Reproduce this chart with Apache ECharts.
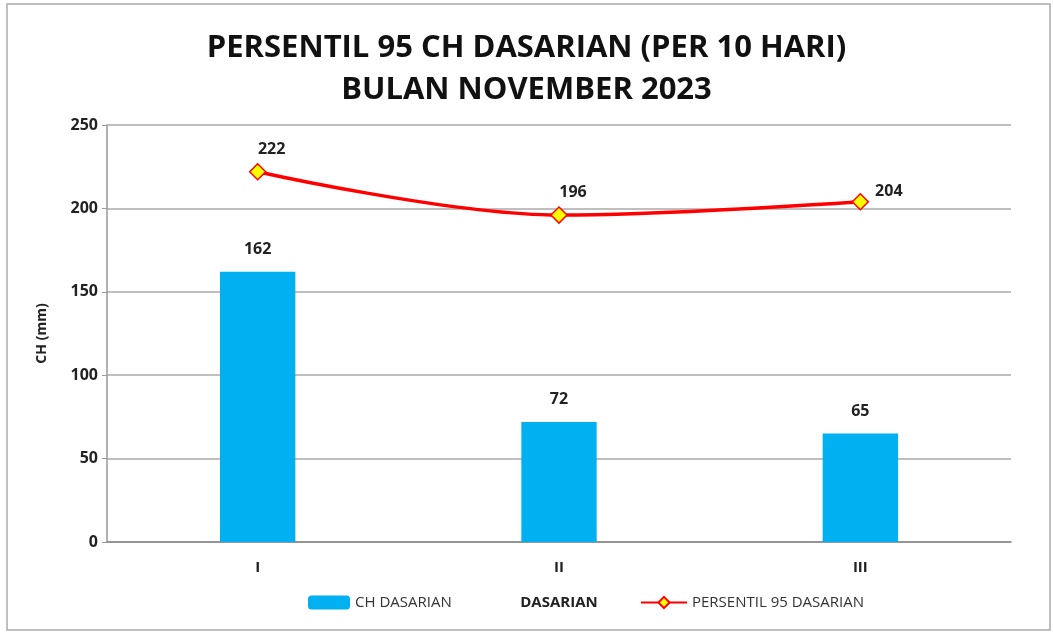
<!DOCTYPE html>
<html>
<head>
<meta charset="utf-8">
<script src="https://cdn.jsdelivr.net/npm/echarts@6/dist/echarts.min.js"></script>
<style>
  html, body { margin: 0; padding: 0; background: #fff; }
  #main { width: 1053px; height: 632px; }
</style>
</head>
<body>
<div id="main"></div>
<script>
// 数据
const categories = ['I', 'II', 'III'];
const chDasarian = [162, 72, 65];
const persentil95 = [222, 196, 204];
const yTicks = [0, 50, 100, 150, 200, 250];

const font = '"Open Sans", "Noto Sans", sans-serif';

let myChart = echarts.init(document.getElementById('main'));

let option = {
    backgroundColor: '#fff',
    textStyle: { fontFamily: font },
    title: {
        text: 'PERSENTIL 95 CH DASARIAN (PER 10 HARI)\nBULAN NOVEMBER 2023',
        left: 'center',
        top: 22,
        textStyle: {
            fontFamily: font,
            fontSize: 31,
            fontWeight: 'bold',
            color: '#111',
            lineHeight: 42
        }
    },
    legend: [{
        data: ['CH DASARIAN'],
        left: 303,
        top: 590,
        itemWidth: 42,
        itemHeight: 14,
        textStyle: { fontSize: 15, color: '#333', fontFamily: font }
    }, {
        data: ['PERSENTIL 95 DASARIAN'],
        left: 635,
        top: 590,
        itemWidth: 46,
        itemHeight: 14,
        textStyle: { fontSize: 15, color: '#333', fontFamily: font }
    }],
    grid: {
        left: 107,
        right: 42,
        top: 125,
        bottom: 90
    },
    xAxis: {
        type: 'category',
        data: categories,
        name: 'DASARIAN',
        nameLocation: 'middle',
        nameGap: 53,
        nameTextStyle: { fontSize: 15, fontWeight: 'bold', color: '#222' },
        axisLine: { lineStyle: { color: '#888', width: 1.5 } },
        axisTick: { show: false },
        axisLabel: { fontSize: 15, fontWeight: 'bold', color: '#222', margin: 18 }
    },
    yAxis: {
        type: 'value',
        min: yTicks[0],
        max: yTicks[yTicks.length - 1],
        interval: 50,
        name: 'CH (mm)',
        nameLocation: 'middle',
        nameGap: 58,
        nameRotate: 90,
        nameTextStyle: { fontSize: 14, fontWeight: 'bold', color: '#222' },
        axisLine: { show: true, lineStyle: { color: '#999', width: 1.5 } },
        axisTick: { show: true, length: 5, lineStyle: { color: '#999' } },
        axisLabel: { fontSize: 16, fontWeight: 'bold', color: '#222', margin: 9 },
        splitLine: { lineStyle: { color: '#aaa', width: 1.5 } }
    },
    series: [{
        name: 'CH DASARIAN',
        type: 'bar',
        data: chDasarian,
        barWidth: '25%',
        itemStyle: { color: '#00B0F0' },
        label: {
            show: true,
            position: 'top',
            distance: 14,
            fontSize: 16,
            fontWeight: 'bold',
            color: '#222'
        }
    }, {
        name: 'PERSENTIL 95 DASARIAN',
        type: 'line',
        data: persentil95.map(function(v, i) {
            let lbl = { offset: [14, 0] };
            if (i === 2) {
                lbl = { position: 'right', offset: [0, -10] };
            }
            return { value: v, label: lbl };
        }),
        smooth: 0.35,
        symbol: 'diamond',
        symbolSize: 16,
        lineStyle: { color: '#FF0000', width: 3.5 },
        itemStyle: { color: '#FFFF00', borderColor: '#FF0000', borderWidth: 1.5 },
        label: {
            show: true,
            position: 'top',
            distance: 6,
            fontSize: 16,
            fontWeight: 'bold',
            color: '#222'
        },
        z: 5
    }],
    graphic: [{
        type: 'rect',
        shape: { x: 7, y: 4, width: 1043, height: 626 },
        style: { fill: 'none', stroke: '#aaa', lineWidth: 1.5 },
        silent: true
    }]
};

myChart.setOption(option);

window.addEventListener("resize", function() {
    myChart.resize();
});
</script>
</body>
</html>
